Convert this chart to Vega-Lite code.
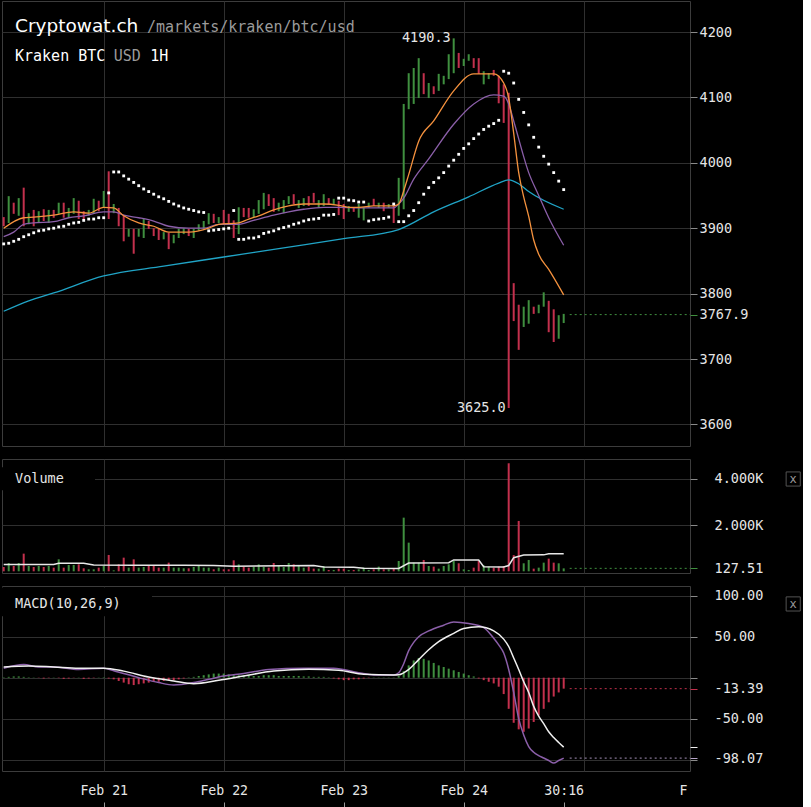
{
"$schema": "https://vega.github.io/schema/vega-lite/v6.json",
"background": "#000000",
"padding": 0,
"bounds": "flush",
"spacing": 13,
"resolve": {"scale": {"color": "independent"}},
"config": {
  "view": {"stroke": "#3c3c3c", "strokeWidth": 1},
  "axis": {"labelColor": "#e6e6e6", "labelFont": "DejaVu Sans Mono", "labelFontSize": 13, "tickColor": "#8a8a8a", "gridColor": "#2f2f2f", "domain": false, "labelOverlap": false, "tickSize": 7, "tickCount": 30}
},
"datasets": {
  "candles": [
{"t":4,"high":3917,"low":3903,"dir":"down","vol":187,"sar":3876,"hist":0.5},
{"t":5,"high":3949,"low":3908,"dir":"up","vol":360,"sar":3877,"hist":1},
{"t":6,"high":3939,"low":3922,"dir":"down","vol":230,"sar":3880,"hist":1.5},
{"t":7,"high":3946,"low":3919,"dir":"up","vol":360,"sar":3883,"hist":1.5},
{"t":8,"high":3962,"low":3903,"dir":"down","vol":763,"sar":3887,"hist":1},
{"t":9,"high":3923,"low":3906,"dir":"up","vol":230,"sar":3890,"hist":0.5},
{"t":10,"high":3928,"low":3903,"dir":"down","vol":187,"sar":3893,"hist":0.3},
{"t":11,"high":3926,"low":3908,"dir":"up","vol":230,"sar":3896,"hist":-0.3},
{"t":12,"high":3929,"low":3911,"dir":"down","vol":187,"sar":3897,"hist":-1},
{"t":13,"high":3928,"low":3908,"dir":"up","vol":230,"sar":3899,"hist":-0.5},
{"t":14,"high":3928,"low":3916,"dir":"down","vol":158,"sar":3900,"hist":0.3},
{"t":15,"high":3939,"low":3922,"dir":"up","vol":518,"sar":3902,"hist":-0.5},
{"t":16,"high":3939,"low":3916,"dir":"down","vol":158,"sar":3903,"hist":-1.5},
{"t":17,"high":3931,"low":3916,"dir":"up","vol":274,"sar":3906,"hist":-1},
{"t":18,"high":3946,"low":3922,"dir":"up","vol":274,"sar":3908,"hist":-0.3},
{"t":19,"high":3942,"low":3914,"dir":"down","vol":302,"sar":3909,"hist":0.3},
{"t":20,"high":3926,"low":3914,"dir":"down","vol":130,"sar":3912,"hist":-1.5},
{"t":21,"high":3928,"low":3919,"dir":"up","vol":86,"sar":3914,"hist":-1},
{"t":22,"high":3945,"low":3922,"dir":"up","vol":86,"sar":3914,"hist":-0.5},
{"t":23,"high":3942,"low":3926,"dir":"down","vol":158,"sar":3916,"hist":0.3},
{"t":24,"high":3957,"low":3931,"dir":"up","vol":230,"sar":3916,"hist":0.5},
{"t":25,"high":3987,"low":3914,"dir":"down","vol":706,"sar":3954,"hist":-1},
{"t":26,"high":3937,"low":3923,"dir":"up","vol":43,"sar":3986,"hist":-2},
{"t":27,"high":3931,"low":3903,"dir":"down","vol":302,"sar":3986,"hist":-4},
{"t":28,"high":3919,"low":3880,"dir":"down","vol":590,"sar":3980,"hist":-6},
{"t":29,"high":3899,"low":3887,"dir":"up","vol":158,"sar":3975,"hist":-8},
{"t":30,"high":3899,"low":3861,"dir":"down","vol":518,"sar":3970,"hist":-9},
{"t":31,"high":3899,"low":3887,"dir":"up","vol":158,"sar":3965,"hist":-8},
{"t":32,"high":3914,"low":3885,"dir":"up","vol":187,"sar":3960,"hist":-7},
{"t":33,"high":3911,"low":3899,"dir":"down","vol":230,"sar":3956,"hist":-6},
{"t":34,"high":3900,"low":3888,"dir":"down","vol":230,"sar":3952,"hist":-5},
{"t":35,"high":3899,"low":3882,"dir":"down","vol":158,"sar":3948,"hist":-5},
{"t":36,"high":3894,"low":3883,"dir":"up","vol":158,"sar":3945,"hist":-4},
{"t":37,"high":3893,"low":3868,"dir":"down","vol":374,"sar":3941,"hist":-3},
{"t":38,"high":3890,"low":3877,"dir":"up","vol":158,"sar":3937,"hist":-3},
{"t":39,"high":3899,"low":3885,"dir":"up","vol":158,"sar":3934,"hist":-2},
{"t":40,"high":3900,"low":3891,"dir":"up","vol":130,"sar":3931,"hist":-1},
{"t":41,"high":3899,"low":3888,"dir":"down","vol":130,"sar":3929,"hist":0.5},
{"t":42,"high":3899,"low":3885,"dir":"up","vol":187,"sar":3927,"hist":1},
{"t":43,"high":3906,"low":3896,"dir":"up","vol":230,"sar":3925,"hist":2},
{"t":44,"high":3911,"low":3899,"dir":"up","vol":158,"sar":3924,"hist":3},
{"t":45,"high":3923,"low":3906,"dir":"up","vol":158,"sar":3896,"hist":4},
{"t":46,"high":3922,"low":3908,"dir":"down","vol":86,"sar":3897,"hist":5},
{"t":47,"high":3917,"low":3908,"dir":"up","vol":158,"sar":3898,"hist":5},
{"t":48,"high":3928,"low":3906,"dir":"down","vol":86,"sar":3899,"hist":5},
{"t":49,"high":3922,"low":3908,"dir":"down","vol":86,"sar":3900,"hist":4},
{"t":50,"high":3912,"low":3885,"dir":"down","vol":475,"sar":3927,"hist":3},
{"t":51,"high":3932,"low":3891,"dir":"up","vol":302,"sar":3883,"hist":3},
{"t":52,"high":3931,"low":3917,"dir":"down","vol":187,"sar":3883,"hist":3},
{"t":53,"high":3931,"low":3916,"dir":"down","vol":158,"sar":3885,"hist":3},
{"t":54,"high":3929,"low":3916,"dir":"up","vol":187,"sar":3885,"hist":2},
{"t":55,"high":3943,"low":3922,"dir":"up","vol":302,"sar":3887,"hist":2},
{"t":56,"high":3954,"low":3929,"dir":"up","vol":187,"sar":3892,"hist":3},
{"t":57,"high":3952,"low":3934,"dir":"down","vol":158,"sar":3894,"hist":3},
{"t":58,"high":3946,"low":3925,"dir":"down","vol":360,"sar":3896,"hist":3},
{"t":59,"high":3939,"low":3926,"dir":"up","vol":230,"sar":3899,"hist":2},
{"t":60,"high":3943,"low":3923,"dir":"up","vol":187,"sar":3901,"hist":2},
{"t":61,"high":3949,"low":3937,"dir":"up","vol":360,"sar":3903,"hist":2},
{"t":62,"high":3952,"low":3937,"dir":"down","vol":302,"sar":3906,"hist":2},
{"t":63,"high":3943,"low":3931,"dir":"up","vol":274,"sar":3908,"hist":2},
{"t":64,"high":3946,"low":3934,"dir":"up","vol":158,"sar":3911,"hist":1.5},
{"t":65,"high":3949,"low":3934,"dir":"down","vol":202,"sar":3913,"hist":1.5},
{"t":66,"high":3954,"low":3939,"dir":"down","vol":115,"sar":3914,"hist":1},
{"t":67,"high":3943,"low":3931,"dir":"up","vol":115,"sar":3915,"hist":1},
{"t":68,"high":3952,"low":3934,"dir":"up","vol":230,"sar":3920,"hist":1},
{"t":69,"high":3946,"low":3937,"dir":"down","vol":58,"sar":3920,"hist":0.5},
{"t":70,"high":3945,"low":3937,"dir":"up","vol":58,"sar":3921,"hist":-1},
{"t":71,"high":3942,"low":3920,"dir":"down","vol":115,"sar":3946,"hist":-2},
{"t":72,"high":3937,"low":3914,"dir":"down","vol":115,"sar":3946,"hist":-3},
{"t":73,"high":3934,"low":3925,"dir":"up","vol":58,"sar":3943,"hist":-3},
{"t":74,"high":3931,"low":3925,"dir":"down","vol":58,"sar":3942,"hist":-2},
{"t":75,"high":3937,"low":3916,"dir":"up","vol":86,"sar":3940,"hist":-2},
{"t":76,"high":3932,"low":3912,"dir":"up","vol":158,"sar":3940,"hist":-1},
{"t":77,"high":3939,"low":3931,"dir":"up","vol":58,"sar":3911,"hist":-0.5},
{"t":78,"high":3945,"low":3934,"dir":"down","vol":86,"sar":3913,"hist":0.3},
{"t":79,"high":3939,"low":3931,"dir":"up","vol":202,"sar":3914,"hist":0.3},
{"t":80,"high":3939,"low":3926,"dir":"down","vol":86,"sar":3915,"hist":0.3},
{"t":81,"high":3937,"low":3931,"dir":"up","vol":86,"sar":3917,"hist":0.3},
{"t":82,"high":3934,"low":3908,"dir":"down","vol":115,"sar":3937,"hist":0.3},
{"t":83,"high":3977,"low":3919,"dir":"up","vol":446,"sar":3910,"hist":2},
{"t":84,"high":4090,"low":3929,"dir":"up","vol":2318,"sar":3910,"hist":8},
{"t":85,"high":4137,"low":4082,"dir":"up","vol":1238,"sar":3919,"hist":15},
{"t":86,"high":4145,"low":4090,"dir":"up","vol":374,"sar":3927,"hist":21},
{"t":87,"high":4160,"low":4099,"dir":"up","vol":374,"sar":3939,"hist":24},
{"t":88,"high":4137,"low":4105,"dir":"down","vol":490,"sar":3952,"hist":23},
{"t":89,"high":4122,"low":4099,"dir":"up","vol":230,"sar":3962,"hist":21},
{"t":90,"high":4117,"low":4105,"dir":"down","vol":202,"sar":3970,"hist":18},
{"t":91,"high":4136,"low":4110,"dir":"up","vol":115,"sar":3977,"hist":15},
{"t":92,"high":4133,"low":4120,"dir":"up","vol":230,"sar":3985,"hist":13},
{"t":93,"high":4166,"low":4128,"dir":"up","vol":302,"sar":3995,"hist":11},
{"t":94,"high":4190.3,"low":4137,"dir":"up","vol":446,"sar":4004,"hist":9},
{"t":95,"high":4168,"low":4145,"dir":"down","vol":346,"sar":4013,"hist":7},
{"t":96,"high":4159,"low":4148,"dir":"up","vol":86,"sar":4022,"hist":5},
{"t":97,"high":4166,"low":4156,"dir":"up","vol":58,"sar":4029,"hist":3},
{"t":98,"high":4160,"low":4145,"dir":"down","vol":158,"sar":4037,"hist":1.5},
{"t":99,"high":4160,"low":4136,"dir":"down","vol":446,"sar":4044,"hist":-1},
{"t":100,"high":4140,"low":4120,"dir":"up","vol":259,"sar":4051,"hist":-3},
{"t":101,"high":4137,"low":4128,"dir":"up","vol":202,"sar":4056,"hist":-5},
{"t":102,"high":4142,"low":4133,"dir":"down","vol":158,"sar":4060,"hist":-7},
{"t":103,"high":4133,"low":4091,"dir":"down","vol":202,"sar":4065,"hist":-11},
{"t":104,"high":4120,"low":4061,"dir":"down","vol":230,"sar":4140,"hist":-20},
{"t":105,"high":4107,"low":3625,"dir":"down","vol":4666,"sar":4137,"hist":-38},
{"t":106,"high":3816,"low":3758,"dir":"down","vol":700,"sar":4122,"hist":-55},
{"t":107,"high":3783,"low":3714,"dir":"down","vol":2175,"sar":4097,"hist":-63},
{"t":108,"high":3780,"low":3749,"dir":"up","vol":346,"sar":4077,"hist":-66},
{"t":109,"high":3790,"low":3754,"dir":"up","vol":490,"sar":4058,"hist":-62},
{"t":110,"high":3780,"low":3769,"dir":"down","vol":115,"sar":4039,"hist":-54},
{"t":111,"high":3783,"low":3770,"dir":"up","vol":158,"sar":4024,"hist":-46},
{"t":112,"high":3802,"low":3780,"dir":"up","vol":374,"sar":4010,"hist":-38},
{"t":113,"high":3789,"low":3741,"dir":"down","vol":547,"sar":3998,"hist":-30},
{"t":114,"high":3776,"low":3726,"dir":"down","vol":374,"sar":3985,"hist":-23},
{"t":115,"high":3767,"low":3731,"dir":"up","vol":346,"sar":3972,"hist":-18},
{"t":116,"high":3769,"low":3755,"dir":"up","vol":127.51,"sar":3959,"hist":-13.39}
  ],
  "ema": [
{"t":4,"s":"slow","v":3773},{"t":9,"s":"slow","v":3789},{"t":14,"s":"slow","v":3801},{"t":24,"s":"slow","v":3827},{"t":36,"s":"slow","v":3842},{"t":48,"s":"slow","v":3856},{"t":60,"s":"slow","v":3870},{"t":72,"s":"slow","v":3884},{"t":83,"s":"slow","v":3898},{"t":90,"s":"slow","v":3925},{"t":97,"s":"slow","v":3948},{"t":103,"s":"slow","v":3969},{"t":105,"s":"slow","v":3974},{"t":107,"s":"slow","v":3968},{"t":109,"s":"slow","v":3956},{"t":116,"s":"slow","v":3929},
{"t":4,"s":"mid","v":3887},{"t":6,"s":"mid","v":3894},{"t":8,"s":"mid","v":3906},{"t":10,"s":"mid","v":3908},{"t":14,"s":"mid","v":3910},{"t":17,"s":"mid","v":3916},{"t":20,"s":"mid","v":3919},{"t":24,"s":"mid","v":3925},{"t":26,"s":"mid","v":3925},{"t":28,"s":"mid","v":3920},{"t":31,"s":"mid","v":3916},{"t":34,"s":"mid","v":3911},{"t":37,"s":"mid","v":3903},{"t":41,"s":"mid","v":3900},{"t":44,"s":"mid","v":3900},{"t":47,"s":"mid","v":3906},{"t":51,"s":"mid","v":3906},{"t":54,"s":"mid","v":3912},{"t":58,"s":"mid","v":3920},{"t":61,"s":"mid","v":3925},{"t":64,"s":"mid","v":3929},{"t":68,"s":"mid","v":3932},{"t":71,"s":"mid","v":3932},{"t":75,"s":"mid","v":3931},{"t":82,"s":"mid","v":3931},{"t":83,"s":"mid","v":3937},{"t":84,"s":"mid","v":3946},{"t":86,"s":"mid","v":3975},{"t":89,"s":"mid","v":4006},{"t":94,"s":"mid","v":4059},{"t":98,"s":"mid","v":4090},{"t":102,"s":"mid","v":4104},{"t":104,"s":"mid","v":4102},{"t":105,"s":"mid","v":4090},{"t":106,"s":"mid","v":4064},{"t":109,"s":"mid","v":3985},{"t":111,"s":"mid","v":3950},{"t":113,"s":"mid","v":3916},{"t":116,"s":"mid","v":3874},
{"t":4,"s":"fast","v":3900},{"t":8,"s":"fast","v":3916},{"t":10,"s":"fast","v":3917},{"t":14,"s":"fast","v":3920},{"t":18,"s":"fast","v":3925},{"t":21,"s":"fast","v":3923},{"t":24,"s":"fast","v":3932},{"t":26,"s":"fast","v":3931},{"t":28,"s":"fast","v":3919},{"t":31,"s":"fast","v":3908},{"t":34,"s":"fast","v":3903},{"t":37,"s":"fast","v":3894},{"t":41,"s":"fast","v":3894},{"t":45,"s":"fast","v":3900},{"t":47,"s":"fast","v":3906},{"t":51,"s":"fast","v":3908},{"t":53,"s":"fast","v":3914},{"t":55,"s":"fast","v":3919},{"t":58,"s":"fast","v":3928},{"t":61,"s":"fast","v":3934},{"t":64,"s":"fast","v":3937},{"t":68,"s":"fast","v":3937},{"t":71,"s":"fast","v":3935},{"t":73,"s":"fast","v":3932},{"t":75,"s":"fast","v":3932},{"t":78,"s":"fast","v":3934},{"t":82,"s":"fast","v":3934},{"t":83,"s":"fast","v":3937},{"t":84,"s":"fast","v":3957},{"t":85,"s":"fast","v":3982},{"t":87,"s":"fast","v":4033},{"t":90,"s":"fast","v":4064},{"t":94,"s":"fast","v":4110},{"t":98,"s":"fast","v":4136},{"t":102,"s":"fast","v":4136},{"t":104,"s":"fast","v":4122},{"t":105,"s":"fast","v":4099},{"t":106,"s":"fast","v":4045},{"t":107,"s":"fast","v":3985},{"t":108,"s":"fast","v":3948},{"t":109,"s":"fast","v":3918},{"t":110,"s":"fast","v":3882},{"t":111,"s":"fast","v":3860},{"t":113,"s":"fast","v":3837},{"t":116,"s":"fast","v":3798}
  ],
  "volma": [
{"t":4,"v":290},{"t":14,"v":290},{"t":15,"v":345},{"t":20,"v":345},{"t":22,"v":270},{"t":30,"v":260},{"t":40,"v":260},{"t":46,"v":250},{"t":50,"v":220},{"t":60,"v":240},{"t":66,"v":250},{"t":68,"v":190},{"t":74,"v":180},{"t":76,"v":130},{"t":83,"v":125},{"t":85,"v":360},{"t":93,"v":370},{"t":94,"v":490},{"t":99,"v":490},{"t":100,"v":200},{"t":104,"v":190},{"t":105,"v":250},{"t":106,"v":590},{"t":108,"v":700},{"t":112,"v":710},{"t":113,"v":760},{"t":116,"v":760}
  ],
  "macdlines": [
{"t":4,"s":"macd","v":11.5},{"t":8,"s":"macd","v":16},{"t":11,"s":"macd","v":13},{"t":14,"s":"macd","v":13},{"t":19,"s":"macd","v":10},{"t":24,"s":"macd","v":11.5},{"t":26,"s":"macd","v":8.5},{"t":31,"s":"macd","v":0},{"t":35,"s":"macd","v":-6},{"t":38,"s":"macd","v":-9},{"t":42,"s":"macd","v":-6},{"t":45,"s":"macd","v":-2},{"t":48,"s":"macd","v":2},{"t":52,"s":"macd","v":5},{"t":57,"s":"macd","v":10},{"t":64,"s":"macd","v":11.5},{"t":70,"s":"macd","v":11.5},{"t":75,"s":"macd","v":6},{"t":78,"s":"macd","v":3.3},{"t":82,"s":"macd","v":3.3},{"t":83,"s":"macd","v":6},{"t":84,"s":"macd","v":17},{"t":85,"s":"macd","v":33},{"t":86,"s":"macd","v":43},{"t":87,"s":"macd","v":50},{"t":89,"s":"macd","v":57},{"t":92,"s":"macd","v":64},{"t":94,"s":"macd","v":68},{"t":97,"s":"macd","v":66},{"t":100,"s":"macd","v":61},{"t":102,"s":"macd","v":48},{"t":103,"s":"macd","v":40},{"t":104,"s":"macd","v":30},{"t":105,"s":"macd","v":10},{"t":106,"s":"macd","v":-18},{"t":107,"s":"macd","v":-50},{"t":108,"s":"macd","v":-70},{"t":109,"s":"macd","v":-84},{"t":110,"s":"macd","v":-91},{"t":111,"s":"macd","v":-95},{"t":112,"s":"macd","v":-98},{"t":113,"s":"macd","v":-101},{"t":114,"s":"macd","v":-104},{"t":115,"s":"macd","v":-101},{"t":116,"s":"macd","v":-98.07},
{"t":4,"s":"signal","v":13},{"t":9,"s":"signal","v":14.3},{"t":14,"s":"signal","v":13},{"t":19,"s":"signal","v":11.5},{"t":24,"s":"signal","v":11.5},{"t":28,"s":"signal","v":8},{"t":33,"s":"signal","v":0.8},{"t":38,"s":"signal","v":-4},{"t":42,"s":"signal","v":-7.3},{"t":47,"s":"signal","v":-3.2},{"t":52,"s":"signal","v":2},{"t":58,"s":"signal","v":8.2},{"t":65,"s":"signal","v":10.2},{"t":71,"s":"signal","v":9},{"t":76,"s":"signal","v":4.1},{"t":82,"s":"signal","v":3.3},{"t":83,"s":"signal","v":3.5},{"t":85,"s":"signal","v":10},{"t":87,"s":"signal","v":22},{"t":89,"s":"signal","v":34},{"t":91,"s":"signal","v":44},{"t":94,"s":"signal","v":54},{"t":96,"s":"signal","v":60},{"t":99,"s":"signal","v":62},{"t":102,"s":"signal","v":57},{"t":104,"s":"signal","v":47},{"t":105,"s":"signal","v":38},{"t":106,"s":"signal","v":24},{"t":107,"s":"signal","v":10},{"t":108,"s":"signal","v":-5},{"t":109,"s":"signal","v":-18},{"t":110,"s":"signal","v":-35},{"t":111,"s":"signal","v":-47},{"t":112,"s":"signal","v":-56},{"t":113,"s":"signal","v":-66},{"t":114,"s":"signal","v":-73},{"t":115,"s":"signal","v":-79},{"t":116,"s":"signal","v":-84.68}
  ]
},
"vconcat": [
 {
  "width": 688, "height": 445,
  "layer": [
   {"data": {"name": "candles"}, "mark": {"type": "rule", "strokeWidth": 2},
    "encoding": {
     "x": {"field": "t", "type": "quantitative", "title": null, "scale": {"domain": [3.66, 141.26], "nice": false, "zero": false},
           "axis": {"values": [24, 48, 72, 96, 120], "labels": false, "ticks": false, "grid": true}},
     "y": {"field": "low", "type": "quantitative", "title": null, "scale": {"domain": [3567, 4247.4], "nice": false, "zero": false},
           "axis": {"orient": "right", "values": [3600, 3700, 3767.9, 3800, 3900, 4000, 4100, 4200], "labelPadding": 2, "labelFontSize": 13.5,
                    "labelExpr": "datum.value == 3767.9 ? '3767.9' : format(datum.value, 'd')",
                    "gridOpacity": {"condition": {"test": "datum.value == 3767.9", "value": 0}, "value": 1},
                    "tickColor": {"condition": {"test": "datum.value == 3767.9", "value": "#3f8f3f"}, "value": "#8a8a8a"}}},
     "y2": {"field": "high"},
     "color": {"condition": {"test": "datum.dir == 'up'", "value": "#3f8f3f"}, "value": "#c3304d"}
    }},
   {"data": {"name": "ema"}, "mark": {"type": "line", "strokeWidth": 1.3, "interpolate": "monotone"},
    "encoding": {
     "x": {"field": "t", "type": "quantitative", "title": null},
     "y": {"field": "v", "type": "quantitative", "title": null},
     "color": {"field": "s", "type": "nominal", "scale": {"domain": ["slow", "mid", "fast"], "range": ["#20a4c6", "#8b5fa9", "#f5923e"]}, "legend": null}
    }},
   {"data": {"name": "candles"}, "mark": {"type": "square", "size": 8, "opacity": 1, "color": "#ffffff"},
    "encoding": {
     "x": {"field": "t", "type": "quantitative", "title": null},
     "y": {"field": "sar", "type": "quantitative", "title": null}
    }},
   {"data": {"name": "candles"},
    "transform": [{"joinaggregate": [{"op": "max", "field": "high", "as": "mx"}]}, {"filter": "datum.high == datum.mx"}],
    "mark": {"type": "text", "align": "right", "baseline": "middle", "dx": -3, "font": "DejaVu Sans Mono", "fontSize": 13.5, "color": "#e6e6e6"},
    "encoding": {
     "x": {"field": "t", "type": "quantitative", "title": null},
     "y": {"field": "high", "type": "quantitative", "title": null},
     "text": {"field": "high", "format": ".1f"}
    }},
   {"data": {"name": "candles"},
    "transform": [{"joinaggregate": [{"op": "min", "field": "low", "as": "mn"}]}, {"filter": "datum.low == datum.mn"}],
    "mark": {"type": "text", "align": "right", "baseline": "middle", "dx": -3, "font": "DejaVu Sans Mono", "fontSize": 13.5, "color": "#e6e6e6"},
    "encoding": {
     "x": {"field": "t", "type": "quantitative", "title": null},
     "y": {"field": "low", "type": "quantitative", "title": null},
     "text": {"field": "low", "format": ".1f"}
    }},
   {"data": {"values": [{}]}, "mark": {"type": "rule", "color": "#3f8f3f", "strokeDash": [2, 3], "strokeWidth": 1},
    "encoding": {"x": {"datum": 117.2}, "x2": {"datum": 141.26}, "y": {"datum": 3767.9}}},
   {"data": {"values": [{}]}, "mark": {"type": "text", "align": "left", "baseline": "alphabetic", "font": "DejaVu Sans", "fontSize": 18.5, "color": "#ffffff", "text": "Cryptowat.ch"},
    "encoding": {"x": {"datum": 6.26}, "y": {"datum": 4200}}},
   {"data": {"values": [{}]}, "mark": {"type": "text", "align": "left", "baseline": "alphabetic", "font": "DejaVu Sans Mono", "fontSize": 15, "color": "#9b9b9b", "text": "/markets/kraken/btc/usd"},
    "encoding": {"x": {"datum": 32.66}, "y": {"datum": 4200}}},
   {"data": {"values": [{}]}, "mark": {"type": "text", "align": "left", "baseline": "alphabetic", "font": "DejaVu Sans Mono", "fontSize": 15, "color": "#ffffff", "text": "Kraken BTC"},
    "encoding": {"x": {"datum": 6.26}, "y": {"datum": 4155.7}}},
   {"data": {"values": [{}]}, "mark": {"type": "text", "align": "left", "baseline": "alphabetic", "font": "DejaVu Sans Mono", "fontSize": 15, "color": "#9b9b9b", "text": "USD"},
    "encoding": {"x": {"datum": 26.0}, "y": {"datum": 4155.7}}},
   {"data": {"values": [{}]}, "mark": {"type": "text", "align": "left", "baseline": "alphabetic", "font": "DejaVu Sans Mono", "fontSize": 15, "color": "#ffffff", "text": "1H"},
    "encoding": {"x": {"datum": 33.32}, "y": {"datum": 4155.7}}}
  ]
 },
 {
  "width": 688, "height": 114,
  "layer": [
   {"data": {"name": "candles"}, "mark": {"type": "rule", "strokeWidth": 2},
    "encoding": {
     "x": {"field": "t", "type": "quantitative", "title": null, "scale": {"domain": [3.66, 141.26], "nice": false, "zero": false},
           "axis": {"values": [24, 48, 72, 96, 120], "labels": false, "ticks": false, "grid": true}},
     "y": {"field": "vol", "type": "quantitative", "title": null, "scale": {"domain": [-73, 4851], "nice": false, "zero": false},
           "axis": {"orient": "right", "values": [127.51, 2000, 4000], "labelPadding": 17, "labelFontSize": 13.5,
                    "labelExpr": "datum.value >= 1000 ? format(datum.value / 1000, '.3f') + 'K' : format(datum.value, '.2f')",
                    "gridOpacity": {"condition": {"test": "datum.value == 127.51", "value": 0}, "value": 1},
                    "tickColor": {"condition": {"test": "datum.value == 127.51", "value": "#3f8f3f"}, "value": "#8a8a8a"}}},
     "y2": {"datum": 0},
     "color": {"condition": {"test": "datum.dir == 'up'", "value": "#3f8f3f"}, "value": "#c3304d"}
    }},
   {"data": {"name": "volma"}, "mark": {"type": "line", "strokeWidth": 1.5, "color": "#e8e8e8"},
    "encoding": {
     "x": {"field": "t", "type": "quantitative", "title": null},
     "y": {"field": "v", "type": "quantitative", "title": null}
    }},
   {"data": {"values": [{}]}, "mark": {"type": "rule", "color": "#3f8f3f", "strokeDash": [2, 3], "strokeWidth": 1},
    "encoding": {"x": {"datum": 117.2}, "x2": {"datum": 141.26}, "y": {"datum": 127.51}}},
   {"data": {"values": [{}]}, "mark": {"type": "rect", "color": "#000000"},
    "encoding": {"x": {"datum": 3.66}, "x2": {"datum": 22.26}, "y": {"datum": 3500}, "y2": {"datum": 4500}}},
   {"data": {"values": [{}]}, "mark": {"type": "text", "align": "left", "baseline": "middle", "font": "DejaVu Sans Mono", "fontSize": 13.5, "color": "#e6e6e6", "text": "Volume"},
    "encoding": {"x": {"datum": 6.26}, "y": {"datum": 3987}}},
   {"data": {"values": [{}]}, "mark": {"type": "square", "size": 200, "filled": false, "color": "#777777", "strokeWidth": 1},
    "encoding": {"x": {"datum": 161.9}, "y": {"datum": 3987}}},
   {"data": {"values": [{}]}, "mark": {"type": "text", "align": "center", "baseline": "middle", "font": "DejaVu Sans Mono", "fontSize": 12, "color": "#999999", "text": "x"},
    "encoding": {"x": {"datum": 161.9}, "y": {"datum": 3987}}}
  ]
 },
 {
  "width": 688, "height": 185,
  "layer": [
   {"data": {"name": "candles"}, "mark": {"type": "rule", "strokeWidth": 2},
    "encoding": {
     "x": {"field": "t", "type": "quantitative", "title": null, "scale": {"domain": [3.66, 141.26], "nice": false, "zero": false},
           "axis": {"values": [24, 48, 72, 96, 116, 120, 139.86], "grid": true, "offset": 37, "tickSize": -6, "labelPadding": -18, "labelFontSize": 13.2, "tickColor": "#9a9a9a",
                    "labelExpr": "datum.value == 24 ? 'Feb 21' : datum.value == 48 ? 'Feb 22' : datum.value == 72 ? 'Feb 23' : datum.value == 96 ? 'Feb 24' : datum.value == 116 ? '30:16' : datum.value == 139.86 ? 'F' : ''",
                    "gridOpacity": {"condition": {"test": "datum.value == 116 || datum.value == 139.86", "value": 0}, "value": 1},
                    "tickOpacity": {"condition": {"test": "datum.value == 120 || datum.value == 139.86", "value": 0}, "value": 1}}},
     "y": {"field": "hist", "type": "quantitative", "title": null, "scale": {"domain": [-113.8, 111.8], "nice": false, "zero": false},
           "axis": {"orient": "right", "values": [100, 50, 0, -13.39, -50, -84.68, -98.07, -100], "tickCount": 30, "labelPadding": 17, "labelFontSize": 13.5,
                    "labelExpr": "datum.value == 0 || datum.value == -84.68 || datum.value == -100 ? '' : (datum.value < 0 ? '-' : '') + format(abs(datum.value), '.2f')",
                    "gridOpacity": {"condition": {"test": "datum.value == -13.39 || datum.value == -84.68 || datum.value == -98.07", "value": 0}, "value": 1},
                    "tickColor": {"condition": [{"test": "datum.value == -13.39", "value": "#c3304d"}, {"test": "datum.value == -84.68", "value": "#f0f0f0"}, {"test": "datum.value == -98.07", "value": "#b7a6c8"}], "value": "#8a8a8a"}}},
     "y2": {"datum": 0},
     "color": {"condition": {"test": "datum.hist > 0", "value": "#3f8f3f"}, "value": "#c3304d"}
    }},
   {"data": {"name": "macdlines"}, "mark": {"type": "line", "strokeWidth": 1.5, "interpolate": "monotone"},
    "encoding": {
     "x": {"field": "t", "type": "quantitative", "title": null},
     "y": {"field": "v", "type": "quantitative", "title": null},
     "color": {"field": "s", "type": "nominal", "scale": {"domain": ["macd", "signal"], "range": ["#8b5fa9", "#f0f0f0"]}, "legend": null}
    }},
   {"data": {"values": [{}]}, "mark": {"type": "rule", "color": "#c3304d", "strokeDash": [2, 3], "strokeWidth": 1},
    "encoding": {"x": {"datum": 117.2}, "x2": {"datum": 141.26}, "y": {"datum": -13.39}}},
   {"data": {"values": [{}]}, "mark": {"type": "rule", "color": "#a591b8", "strokeDash": [2, 3], "strokeWidth": 1},
    "encoding": {"x": {"datum": 117.2}, "x2": {"datum": 141.26}, "y": {"datum": -98.07}}},
   {"data": {"values": [{}]}, "mark": {"type": "rect", "color": "#000000"},
    "encoding": {"x": {"datum": 3.66}, "x2": {"datum": 33.66}, "y": {"datum": 75}, "y2": {"datum": 110}}},
   {"data": {"values": [{}]}, "mark": {"type": "text", "align": "left", "baseline": "middle", "font": "DejaVu Sans Mono", "fontSize": 13.5, "color": "#e6e6e6", "text": "MACD(10,26,9)"},
    "encoding": {"x": {"datum": 6.26}, "y": {"datum": 89.9}}},
   {"data": {"values": [{}]}, "mark": {"type": "square", "size": 200, "filled": false, "color": "#777777", "strokeWidth": 1},
    "encoding": {"x": {"datum": 161.9}, "y": {"datum": 89.9}}},
   {"data": {"values": [{}]}, "mark": {"type": "text", "align": "center", "baseline": "middle", "font": "DejaVu Sans Mono", "fontSize": 12, "color": "#999999", "text": "x"},
    "encoding": {"x": {"datum": 161.9}, "y": {"datum": 89.9}}}
  ]
 }
]
}
